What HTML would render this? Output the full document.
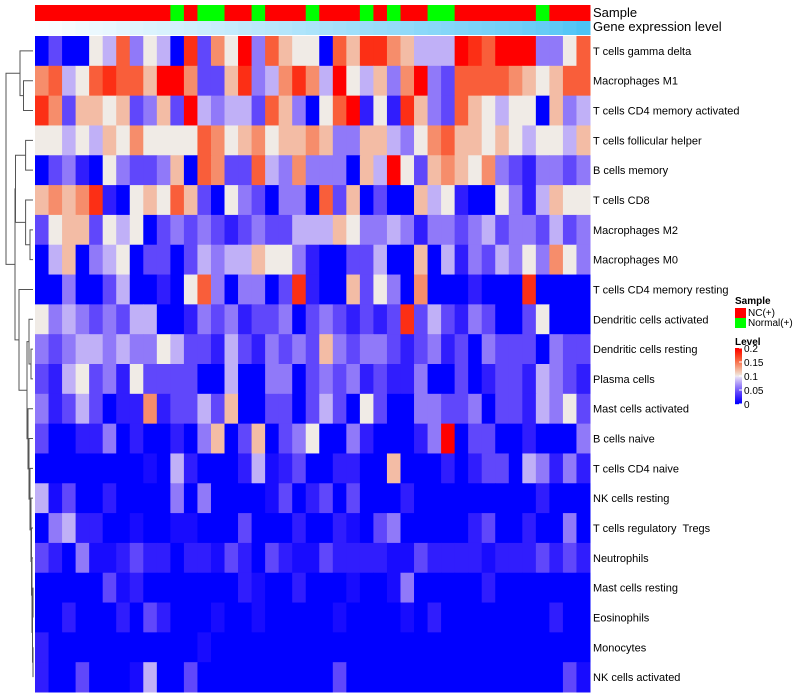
<!DOCTYPE html>
<html><head><meta charset="utf-8"><style>
body{margin:0;background:#fff;}
svg{display:block;font-family:"Liberation Sans",sans-serif;}
text{white-space:pre;}
</style></head><body>
<svg id="chart" width="800" height="700" viewBox="0 0 800 700"></svg>
<script>
const cellTypes=["T cells gamma delta","Macrophages M1","T cells CD4 memory activated","T cells follicular helper","B cells memory","T cells CD8","Macrophages M2","Macrophages M0","T cells CD4 memory resting","Dendritic cells activated","Dendritic cells resting","Plasma cells","Mast cells activated","B cells naive","T cells CD4 naive","NK cells resting","T cells regulatory  Tregs","Neutrophils","Mast cells resting","Eosinophils","Monocytes","NK cells activated"];
const sampleGroup=[0,0,0,0,0,0,0,0,0,0,1,0,1,1,0,0,1,0,0,0,1,0,0,0,1,0,1,0,0,1,1,0,0,0,0,0,0,1,0,0,0];
const exprLevel=[0.02,0.04,0.06,0.09,0.11,0.13,0.16,0.18,0.2,0.22,0.25,0.27,0.29,0.31,0.33,0.36,0.38,0.4,0.42,0.45,0.47,0.49,0.51,0.54,0.56,0.58,0.6,0.62,0.65,0.67,0.69,0.71,0.74,0.76,0.78,0.8,0.83,0.86,0.9,0.95,1];
const r0=[0,.04,0,0,.1,.08,.16,.06,.1,.08,0,.18,.04,.14,.1,.2,.06,.16,.12,.1,.1,0,.16,.12,.18,.18,.14,.12,.08,.08,.08,.2,.18,.16,.2,.2,.2,.06,.06,.1,.16];
const r1=[.14,.16,.08,.1,.16,.18,.16,.16,.12,.2,.2,.14,.04,.04,.12,.18,.06,.08,.14,.18,.14,.08,.2,.1,.08,.12,.06,.14,.2,.06,.04,.16,.16,.16,.16,.14,.12,.1,.12,.16,.16];
const r2=[.18,.14,.04,.12,.12,.1,.12,.04,.06,.12,.04,.2,.08,.06,.08,.08,.04,.16,.12,.06,0,.1,.16,.2,.02,.1,.02,.18,.12,.06,.04,.16,.12,.1,.08,.1,.1,0,.12,.06,.08];
const r3=[.1,.1,.08,.1,.08,.12,.1,.14,.1,.1,.1,.1,.16,.14,.1,.12,.14,.1,.12,.12,.14,.12,.06,.06,.12,.12,.08,.06,.1,.14,.16,.12,.12,.1,.12,.1,.08,.1,.1,.08,.12];
const r4=[0,.04,.06,.02,0,.1,.06,.04,.04,.06,.12,0,.16,.14,.04,.04,.16,.08,.06,.14,.06,.06,.06,0,.12,.08,.2,.1,.04,.12,.14,.12,.1,.14,.06,.04,.02,.06,.06,.04,.06];
const r5=[.12,.14,.12,.14,.18,.02,0,.1,.12,.1,.16,.12,.04,0,.1,.06,.04,0,.06,.06,0,.16,.04,.12,0,.04,0,0,.12,.08,.1,.02,0,0,.1,.06,.02,.08,.12,.1,.1];
const r6=[.04,.1,.12,.12,.04,.1,.08,.1,0,.04,.06,.04,.06,.04,.02,.04,.06,.04,.04,.08,.08,.08,.12,.1,.06,.06,.08,.06,.02,.06,.06,.04,.06,.08,.04,.06,.06,.04,.08,.04,.06];
const r7=[0,.08,.12,0,.06,.08,.1,0,.04,.04,0,.04,.08,.06,.08,.08,.12,.1,.1,.06,.02,0,0,.04,.04,.08,0,0,.12,0,.08,.02,.06,.04,.08,.06,.1,.06,.14,.1,.06];
const r8=[0,0,.06,0,0,.04,.08,0,0,.02,0,.1,.16,.06,0,.06,.06,0,.04,.18,.02,0,0,.12,.04,.1,.06,0,.14,0,0,0,.02,0,0,0,.18,0,0,0,0];
const r9=[.1,.06,.08,.06,.04,.06,.04,.08,.08,0,0,.02,.06,.04,.06,.02,.04,.04,.06,0,.04,.06,.04,.02,.04,.02,.04,.18,.04,.08,.04,.02,.06,.04,0,0,.04,.1,0,0,0];
const r10=[.06,.04,.06,.08,.08,.06,.08,.06,.06,.1,.08,.04,.04,.02,.08,.04,.02,.06,.04,.06,.04,.12,.06,.04,.06,.06,.04,.02,.04,.06,.02,.04,0,.06,.04,.04,.04,0,.06,.04,.04];
const r11=[.04,.02,.08,.1,.04,.06,.02,.1,.04,.04,.04,.04,0,0,.08,0,0,.06,.06,0,.04,.06,.04,.06,.02,.04,.02,.02,.06,0,0,.04,0,.02,.04,.04,.02,.08,.06,.04,.02];
const r12=[.06,.02,.04,.08,.04,0,.02,.02,.14,.02,.04,.04,.08,.04,.12,0,0,.04,.04,0,.04,.08,.04,0,.1,.04,0,0,.06,.06,.04,.04,.06,0,.04,.04,.02,.08,.06,.1,.04];
const r13=[.04,0,0,.02,.02,.06,0,.02,0,0,.02,0,.06,.12,0,.04,.12,0,.04,.06,.1,0,0,.06,.02,0,0,0,.02,.06,.2,0,.04,.04,0,0,.02,0,0,0,.06];
const r14=[0,0,0,0,0,0,0,0,.01,0,.08,.02,0,0,0,.02,.08,.01,.02,.04,0,0,.02,.02,0,0,.12,0,0,0,.02,0,.02,.04,.04,0,.08,.06,.02,.06,.02];
const r15=[.08,.01,.04,0,0,.02,0,0,0,0,.06,0,.06,0,0,0,0,.01,.04,0,.02,.04,0,.04,0,0,0,.02,0,0,0,0,0,0,0,0,0,.02,0,0,0];
const r16=[0,.06,.08,.02,.02,0,0,.01,0,0,.01,.01,0,0,0,.04,0,0,0,.02,0,0,.02,.01,0,.04,.06,0,0,0,0,0,.02,.04,0,0,.02,0,0,.06,0];
const r17=[.04,.02,0,.06,.01,.01,.02,.04,.02,.02,0,.02,.02,.01,.04,.02,0,.04,.02,.01,.01,.04,.02,.02,.02,.02,.01,.01,.04,.02,.02,.02,.02,.01,.02,.02,.02,.04,.02,.04,.02];
const r18=[0,0,0,0,0,.04,.01,.02,0,0,0,0,0,0,0,.02,.01,0,0,.02,0,0,0,.01,0,0,.01,.06,0,0,0,0,0,.02,0,0,0,0,0,0,0];
const r19=[0,0,.02,0,0,0,.02,0,.04,.02,0,0,0,.01,0,0,.01,0,0,0,0,0,.01,0,0,0,0,.01,0,.02,0,0,0,0,0,0,0,0,.02,0,0];
const r20=[.02,0,0,0,0,0,0,0,0,0,0,0,.01,0,0,0,0,0,0,0,0,0,0,0,0,0,0,0,0,0,0,0,0,0,0,0,0,0,0,0,0];
const r21=[.02,0,0,.04,0,0,0,.01,.08,0,0,.04,0,0,0,0,0,0,0,0,0,0,.04,0,0,0,0,0,0,0,0,0,0,0,0,0,0,0,0,.04,.01];
const matrix=[r0,r1,r2,r3,r4,r5,r6,r7,r8,r9,r10,r11,r12,r13,r14,r15,r16,r17,r18,r19,r20,r21];
const legendTicks=[0.2,0.15,0.1,0.05,0];

const NS="http://www.w3.org/2000/svg";
const svg=document.getElementById("chart");
function mk(tag,attrs,parent){const e=document.createElementNS(NS,tag);for(const k in attrs)e.setAttribute(k,attrs[k]);(parent||svg).appendChild(e);return e;}
const X0=35,X1=590,Y0=36,Y1=692;
const nCol=sampleGroup.length,nRow=matrix.length;
const cw=(X1-X0)/nCol,rh=(Y1-Y0)/nRow;
const xPos=c=>X0+c*cw;
const yPos=r=>Y0+r*rh;
function color(v){
  const t=Math.max(0,Math.min(1,v/0.2));
  let r,g,b;
  if(t<0.5){const s=t/0.5;r=240*s;g=235*Math.pow(s,1.3);b=255-10*s;}
  else{const s=(t-0.5)/0.5;r=240+15*s;g=235*(1-s);b=230*Math.pow(1-s,1.5);}
  return `rgb(${Math.round(r)},${Math.round(g)},${Math.round(b)})`;
}
const sampleG=mk("g",{});


sampleGroup.forEach((g,c)=>{
  const e=mk("rect",{x:xPos(c),y:5,width:cw+0.5,height:16,fill:g?"#00ff00":"#ff0000"},sampleG);
  
  
});
const exprG=mk("g",{});


exprLevel.forEach((v,c)=>{
  const r=Math.round(255-(255-77)*v),gg=Math.round(255-(255-195)*v),b=Math.round(255-(255-245)*v);
  const e=mk("rect",{x:xPos(c),y:21,width:cw+0.5,height:14,fill:`rgb(${r},${gg},${b})`},exprG);
  
  
});
const t1=mk("text",{x:593,y:17,"font-size":13,fill:"#000"});t1.textContent="Sample";


const t2=mk("text",{x:593,y:31,"font-size":13,fill:"#000"});t2.textContent="Gene expression level";


const hm=mk("g",{});


matrix.forEach((row,r)=>{
  row.forEach((v,c)=>{
    const e=mk("rect",{x:xPos(c),y:yPos(r),width:cw+0.5,height:rh+0.5,fill:color(v)},hm);
    
    
  });
  const lt=mk("text",{x:593,y:yPos(r)+rh/2+4,"font-size":11,fill:"#000","xml:space":"preserve"});
  lt.textContent=cellTypes[r];
  
  
});
const tree=[6,[20,0,[23.5,1,2]],[15,[15.5,[25.6,3,4],[25.6,5,[30,6,7]]],[19,8,[27,[29,9,[31,10,11]],[28,12,[29,13,[30,14,[31,15,[31.5,16,[32,17,[32.5,[33,18,19],[33,20,21]]]]]]]]]]]];
const dg=mk("g",{stroke:"#555","stroke-width":1,fill:"none"});


function draw(n){
  if(typeof n==="number")return{y:yPos(n)+rh/2,x:33};
  const a=draw(n[1]),b=draw(n[2]);
  mk("path",{d:`M${a.x},${a.y}H${n[0]}V${b.y}H${b.x}`},dg);
  return{y:(a.y+b.y)/2,x:n[0]};
}
draw(tree);
const lg=mk("g",{});


const ls=mk("text",{x:735,y:304,"font-size":10,"font-weight":"bold"},lg);ls.textContent="Sample";


[["#ff0000","NC(+)"],["#00ff00","Normal(+)"]].forEach((d,i)=>{
  const rr=mk("rect",{x:735,y:308+i*10,width:11,height:10,fill:d[0]},lg);
  
  
  const tt=mk("text",{x:748,y:316+i*10,"font-size":10},lg);tt.textContent=d[1];
  
  
});
const ll=mk("text",{x:735,y:345,"font-size":10,"font-weight":"bold"},lg);ll.textContent="Level";


const cbTop=348,cbBot=404;
for(let i=0;i<56;i++){
  const v=0.2*(1-i/55);
  const e=mk("rect",{x:735,y:cbTop+i,width:7,height:1.2,fill:color(v)},lg);
  
  
}
legendTicks.forEach(v=>{
  const y=cbBot-(v/0.2)*(cbBot-cbTop);
  mk("line",{x1:739,x2:742,y1:y,y2:y,stroke:"#fff","stroke-width":1},lg);
  const tt=mk("text",{x:744,y:y+4,"font-size":10},lg);tt.textContent=String(v);
  
  
});
</script>
</body></html>
